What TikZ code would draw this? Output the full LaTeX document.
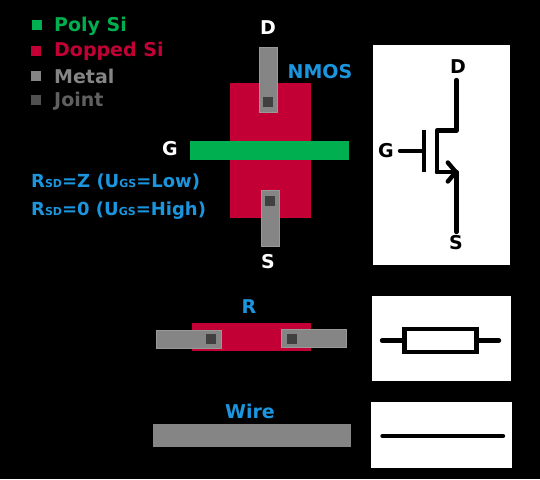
\documentclass[tikz,border=0pt]{standalone}
\usepackage{fontspec}
\setmainfont{DejaVu Sans}
\usetikzlibrary{arrows.meta, positioning}
\definecolor{polygreen}{HTML}{00AF4F}
\definecolor{dopedred}{HTML}{C20036}
\definecolor{metalgray}{HTML}{858585}
\definecolor{jointgray}{HTML}{404040}
\definecolor{keyjointgray}{HTML}{505050}
\definecolor{labelblue}{HTML}{1B96DE}
\begin{document}
\begin{tikzpicture}[
    x=1pt, y=-1pt,
    layer/.style={inner sep=0pt, outer sep=0pt, anchor=north west},
    poly/.style={layer, fill=polygreen},
    doped/.style={layer, fill=dopedred},
    metal/.style={layer, fill=metalgray, draw=gray!80!white, line width=0.8pt},
    joint/.style={layer, fill=jointgray, minimum width=10pt, minimum height=10pt},
    legend/.style={layer, minimum width=10pt, minimum height=10pt},
    legendtext/.style={anchor=base west, inner sep=0pt, font=\fontsize{19}{19}\selectfont\bfseries},
    ruletext/.style={anchor=base west, inner sep=0pt, font=\fontsize{18}{18}\selectfont\bfseries},
    label/.style={inner sep=0pt, font=\fontsize{19}{19}\selectfont\bfseries},
    sheet/.style={layer, fill=white},
    symline/.style={line width=4.4pt, line cap=round, line join=round}
]
    \fill[black] (0,0) rectangle (540,479);
    \useasboundingbox (0,0) rectangle (540,479);

    % Legend
    \node[legend, fill=polygreen] (keypoly) at (32,20) {};
    \node[legend, fill=dopedred] (keydoped) at (31,46) {};
    \node[legend, fill=metalgray] (keymetal) at (31,71) {};
    \node[legend, fill=keyjointgray] (keyjoint) at (31,95) {};
    \node[legendtext, text=polygreen] (txtpoly) at (54,31) {Poly Si};
    \node[legendtext, text=dopedred] (txtdoped) at (54,56) {Dopped Si};
    \node[legendtext, text=metalgray] (txtmetal) at (54,83) {Metal};
    \node[legendtext, text=gray!75!black] (txtjoint) at (54,106) {Joint};

    % NMOS layout
    \node[doped, minimum width=81pt, minimum height=135pt] (nwell) at (230,83) {};
    \node[metal, minimum width=18pt, minimum height=65pt] (dmetal) at (259,47) {};
    \node[joint] (djoint) at (263,97) {};
    \node[metal, minimum width=18pt, minimum height=56pt] (smetal) at (261,190) {};
    \node[joint] (sjoint) at (265,196) {};
    \node[poly, minimum width=159pt, minimum height=19pt] (gate) at (190,141) {};
    \node[label, text=white] (ldrain) at (268,28) {D};
    \node[label, text=white] (lgate) at (170,149) {G};
    \node[label, text=white] (lsource) at (268,262) {S};
    \node[label, text=labelblue] (lnmos) at (320,72) {NMOS};

    % Switch rule
    \node[ruletext, text=labelblue] (rhigh) at (31,187) {R{\fontsize{11}{11}\selectfont SD}=Z (U{\fontsize{11}{11}\selectfont GS}=Low)};
    \node[ruletext, text=labelblue] (rlow) at (31,215) {R{\fontsize{11}{11}\selectfont SD}=0 (U{\fontsize{11}{11}\selectfont GS}=High)};

    % NMOS symbol
    \node[sheet, minimum width=137pt, minimum height=220pt] (sheetn) at (373,45) {};
    \node[label] (symd) at (458,67) {D};
    \node[label] (symg) at (386,151) {G};
    \node[label] (syms) at (456,243) {S};
    \coordinate (dtop) at (456.5,80);
    \coordinate (dknee) at (456.5,130.5);
    \coordinate (chtop) at (437,130.5);
    \coordinate (chbot) at (437,172);
    \coordinate (sjoin) at (458,172);
    \coordinate (send) at (456.5,232);
    \coordinate (gbartop) at (424,130);
    \coordinate (gbarbot) at (424,172);
    \coordinate (gmid) at (424,151);
    \coordinate (glead) at (400,151);
    \draw[symline] (dtop) -- (dknee) -- (chtop) -- (chbot);
    \draw[symline, -{Straight Barb[length=8pt, width=19pt, round]}] (chbot) -- (sjoin);
    \draw[symline] (sjoin -| send) -- (send);
    \draw[symline, line cap=butt] (gbartop) -- (gbarbot);
    \draw[symline] (glead) -- (gmid);

    % Resistor layout
    \node[doped, minimum width=119pt, minimum height=28pt] (rbody) at (192,323) {};
    \node[metal, minimum width=65pt, minimum height=18pt] (rleft) at (156.5,330) {};
    \node[joint] (rjointl) at (206,334) {};
    \node[metal, minimum width=65pt, minimum height=18pt] (rright) at (281.5,329) {};
    \node[joint] (rjointr) at (287,334) {};
    \node[label, text=labelblue] (lres) at (249,307) {R};

    % Resistor symbol
    \node[sheet, minimum width=139pt, minimum height=85pt] (sheetr) at (372,296) {};
    \node[draw, line width=4.4pt, minimum width=72pt, minimum height=23pt, inner sep=0pt] (rsym) at (440.5,340.5) {};
    \coordinate (rleadl) at (382,340.5);
    \coordinate (rleadr) at (499,340.5);
    \draw[symline] (rleadl) -- (rsym.west);
    \draw[symline] (rsym.east) -- (rleadr);

    % Wire
    \node[layer, fill=metalgray, minimum width=198.5pt, minimum height=23pt] (wirebar) at (152.5,424) {};
    \node[label, text=labelblue] (lwire) at (250,411) {Wire};
    \node[sheet, minimum width=141pt, minimum height=66pt] (sheetw) at (371,402) {};
    \coordinate (wirel) at (382.5,436);
    \coordinate (wirer) at (503,436);
    \draw[symline] (wirel) -- (wirer);
\end{tikzpicture}
\end{document}
